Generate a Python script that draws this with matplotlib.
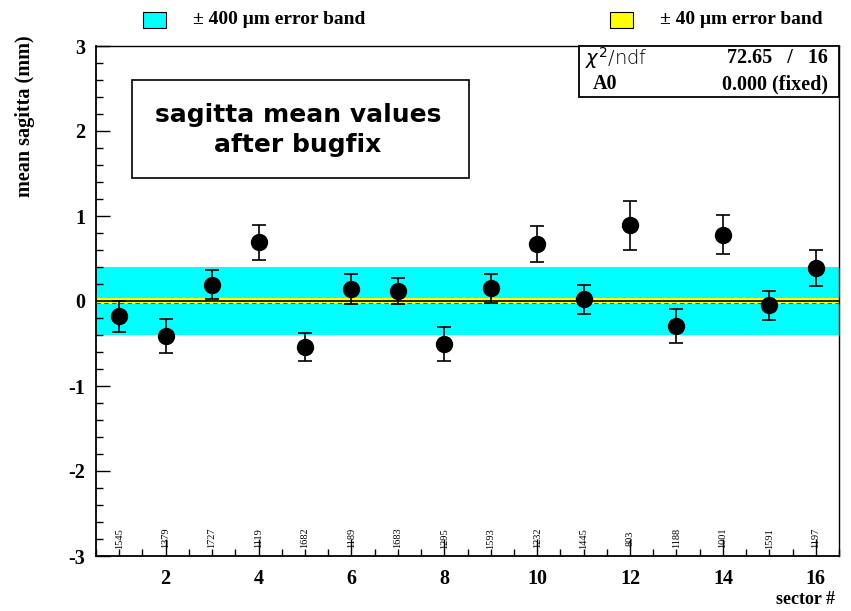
import numpy as np
import matplotlib.pyplot as plt
from matplotlib.ticker import MultipleLocator, FixedLocator
from matplotlib.patches import Rectangle

plt.rcParams['axes.unicode_minus'] = False

# data
sectors = np.arange(1, 17)
sagitta = [-0.18, -0.41, 0.19, 0.69, -0.54, 0.14, 0.12, -0.51,
           0.15, 0.67, 0.02, 0.89, -0.29, 0.78, -0.05, 0.39]
sagitta_err = [0.18, 0.20, 0.17, 0.21, 0.16, 0.18, 0.15, 0.20,
               0.17, 0.21, 0.17, 0.29, 0.20, 0.23, 0.17, 0.21]
counts = [1545, 1379, 1727, 1119, 1682, 1189, 1683, 1295,
          1593, 1232, 1445, 803, 1188, 1001, 1591, 1197]
wide_band = 0.4    # +-400 um
narrow_band = 0.04  # +-40 um
chi2, ndf = 72.65, 16
a0 = 0.000

serif = 'Liberation Serif'
W, H = 851, 611

fig = plt.figure(figsize=(8.51, 6.11), dpi=100)
ax = fig.add_axes([96 / W, 1 - 556 / H, 743 / W, 510 / H])

ax.axhspan(-wide_band, wide_band, color='#00ffff', lw=0, zorder=1)
ax.axhspan(-narrow_band, narrow_band, color='#ffff00', lw=0, zorder=2)
ax.axhline(a0 + 0.005, color='black', lw=1.2, zorder=3)
ax.axhline(a0 - 0.02, color='#555555', lw=0.8, ls=(0, (4, 3)), zorder=3)

ax.errorbar(sectors, sagitta, yerr=sagitta_err, fmt='o', color='black',
            ms=11.5, elinewidth=1.2, capsize=5, capthick=1.2, zorder=5)

for s, c in zip(sectors, counts):
    ax.text(s, -2.79, str(c), rotation=90, ha='center', va='center',
            fontsize=7.5, family=serif, zorder=4)

ax.set_xlim(0.5, 16.5)
ax.set_ylim(-3, 3)
ax.xaxis.set_major_locator(FixedLocator(np.arange(2, 17, 2)))
ax.xaxis.set_minor_locator(MultipleLocator(0.5))
ax.yaxis.set_major_locator(MultipleLocator(1))
ax.yaxis.set_minor_locator(MultipleLocator(0.2))
ax.tick_params(axis='x', which='major', direction='in', length=12, width=1,
               top=False, pad=9)
ax.tick_params(axis='x', which='minor', direction='in', length=5, width=1,
               top=False)
ax.tick_params(axis='y', which='major', direction='in', length=10, width=1,
               right=False, pad=8)
ax.tick_params(axis='y', which='minor', direction='in', length=5, width=1,
               right=False)
for lab in ax.get_xticklabels() + ax.get_yticklabels():
    lab.set_family(serif)
    lab.set_fontweight('bold')
    lab.set_fontsize(14.5)
for sp in ax.spines.values():
    sp.set_linewidth(1.0)
ax.spines['left'].set_linewidth(1.3)
ax.spines['bottom'].set_linewidth(1.3)

fig.text(25 / W, 1 - 35 / H, 'mean sagitta (mm)', rotation=90, ha='center',
         va='top', family=serif, fontweight='bold', fontsize=14.5)
fig.text(835 / W, 1 - 608 / H, 'sector #', ha='right', va='bottom',
         family=serif, fontweight='bold', fontsize=13)

# title box
ax.add_patch(Rectangle(((132 - 96) / 743, (556 - 178) / 510), 337 / 743, 98 / 510,
                       transform=ax.transAxes, fc='white', ec='black', lw=1.2,
                       zorder=6))
ax.text((298 - 96) / 743, (556 - 130) / 510, 'sagitta mean values\nafter bugfix',
        transform=ax.transAxes, ha='center', va='center', fontsize=18,
        fontweight='bold', linespacing=1.35, zorder=7)

# stats box
fig.patches.append(Rectangle((579 / W, 1 - 97 / H), (839 - 579) / W, 51 / H,
                             transform=fig.transFigure, fc='white',
                             ec='black', lw=1.3, zorder=6))
fig.text(585 / W, 1 - 58 / H, r'$\chi^2$/ndf', ha='left', va='center',
         fontsize=14, family='DejaVu Sans', fontweight='light', zorder=7)
fig.text(828 / W, 1 - 58 / H, '%.2f   /   %d' % (chi2, ndf), ha='right',
         va='center', fontsize=14.5, family=serif, fontweight='bold', zorder=7)
fig.text(593 / W, 1 - 84 / H, 'A0', ha='left', va='center', fontsize=14.5,
         family=serif, fontweight='bold', zorder=7)
fig.text(828 / W, 1 - 84 / H, '%.3f (fixed)' % a0, ha='right', va='center',
         fontsize=14.5, family=serif, fontweight='bold', zorder=7)

# legend at top
for bx, col, txt in [(143, '#00ffff', u'\u00b1 400 \u03bcm error band'),
                     (610, '#ffff00', u'\u00b1 40 \u03bcm error band')]:
    fig.patches.append(Rectangle((bx / W, 1 - 28 / H), 23 / W, 16 / H,
                                 transform=fig.transFigure, fc=col,
                                 ec='black', lw=0.8))
    fig.text((bx + 50) / W, 1 - 20 / H, txt, ha='left', va='center',
             fontsize=14, family=serif, fontweight='bold')

fig.savefig('out.png', dpi=100)
